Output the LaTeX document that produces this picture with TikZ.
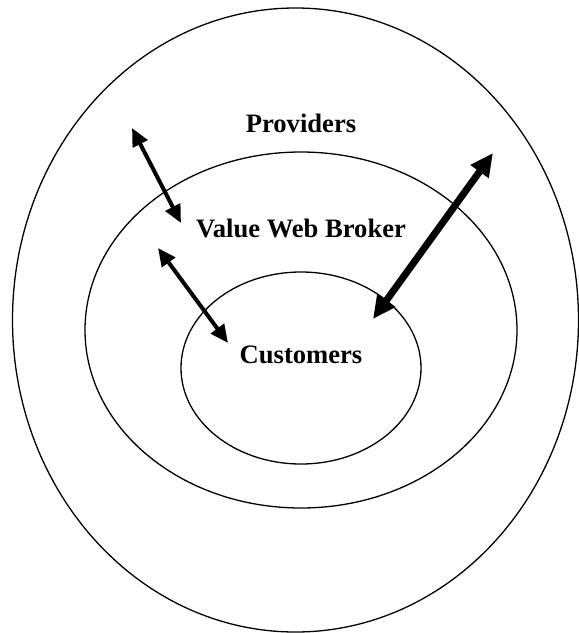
\documentclass[tikz,border=0pt]{standalone}
\usepackage{fontspec}
\setmainfont{Liberation Serif}
\usetikzlibrary{arrows.meta}
\begin{document}
\begin{tikzpicture}[x=1pt, y=-1pt, font=\fontsize{26.6}{30}\selectfont\bfseries,
	ring/.style={line width=1.3pt},
	link/.style={line width=4pt, {Triangle[length=18pt,width=16pt]}-{Triangle[length=18pt,width=16pt]}},
	biglink/.style={line width=7pt, {Triangle[length=23pt,width=21pt]}-{Triangle[length=23pt,width=21pt]}}]
		\useasboundingbox (0, 0) rectangle (579, 633);
		\draw[ring] (295.5, 320) ellipse (283pt and 312pt);
		\draw[ring] (301, 330) ellipse (216pt and 178pt);
		\draw[ring] (301, 368) ellipse (120pt and 96pt);

		\node (prov) at (301, 123) {Providers};
		\node (broker) at (301, 228) {Value Web Broker};
		\node (cust) at (301, 355) {Customers};

		\coordinate (p1) at (132, 128);
		\coordinate (b1) at (181, 223);
		\coordinate (b2) at (158, 248);
		\coordinate (c2) at (228, 343);
		\coordinate (p3) at (493, 153);
		\coordinate (c3) at (373, 319);

		\draw[link] (p1) -- (b1);
		\draw[link] (b2) -- (c2);
		\draw[biglink] (c3) -- (p3);
	\end{tikzpicture}
\end{document}
